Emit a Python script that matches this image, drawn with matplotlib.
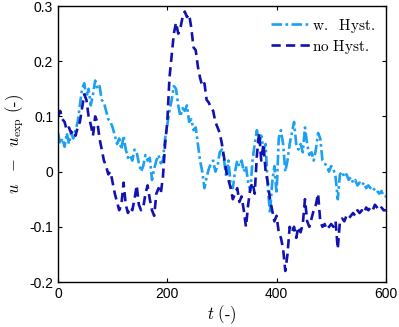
import numpy as np
import matplotlib
matplotlib.use("Agg")
import matplotlib.pyplot as plt

# time grid, 4 s steps from 0 to 600
t = np.arange(0, 601, 4)

# u - u_exp, with hysteresis model
w_hyst = [
    0.07, 0.05, 0.06, 0.045, 0.07, 0.05, 0.07, 0.06, 0.075, 0.09,
    0.12, 0.15, 0.16, 0.135, 0.15, 0.12, 0.14, 0.165, 0.15, 0.155,
    0.13, 0.125, 0.11, 0.095, 0.09, 0.08, 0.065, 0.05, 0.06, 0.04,
    0.065, 0.04, 0.025, 0.03, 0.02, 0.04, 0.035, 0.015, 0.0, 0.01,
    0.03, 0.02, 0.025, -0.015, 0.005, 0.02, 0.03, 0.015, 0.02, 0.06,
    0.085, 0.11, 0.13, 0.155, 0.15, 0.12, 0.10, 0.115, 0.11, 0.12,
    0.09, 0.095, 0.075, 0.08, 0.05, 0.02, 0.0, -0.03, -0.01, 0.005,
    0.015, 0.02, 0.0, 0.01, 0.035, 0.04, 0.02, -0.01, 0.02, -0.025,
    -0.03, 0.0, 0.02, 0.01, 0.02, 0.0, 0.01, -0.02, -0.035, 0.02,
    0.05, 0.075, 0.05, 0.065, 0.04, 0.05, -0.03, -0.075, -0.02, 0.01,
    -0.04, 0.06, 0.075, 0.05, 0.0, 0.02, 0.05, 0.07, 0.09, 0.05,
    0.04, 0.05, 0.035, 0.08, 0.05, 0.03, 0.035, 0.02, 0.04, 0.07,
    0.06, 0.02, 0.015, 0.01, 0.0, 0.01, 0.005, -0.01, -0.05, -0.005,
    0.0, -0.01, -0.005, -0.015, -0.01, -0.02, -0.015, -0.025, -0.02, -0.025,
    -0.02, -0.03, -0.025, -0.03, -0.035, -0.03, -0.035, -0.04, -0.035, -0.045,
    -0.045,
]

# u - u_exp, without hysteresis
no_hyst = [
    0.10, 0.11, 0.095, 0.09, 0.075, 0.08, 0.07, 0.075, 0.065, 0.08,
    0.09, 0.115, 0.14, 0.13, 0.10, 0.085, 0.065, 0.10, 0.09, 0.06,
    0.04, 0.02, 0.01, -0.005, 0.0, -0.02, -0.04, -0.055, -0.07, -0.06,
    -0.02, -0.06, -0.075, -0.065, -0.07, -0.05, -0.025, -0.06, -0.07, -0.065,
    -0.04, -0.025, -0.05, -0.07, -0.08, -0.04, -0.03, -0.04, -0.01, 0.05,
    0.09, 0.17, 0.21, 0.25, 0.27, 0.25, 0.26, 0.28, 0.29, 0.28,
    0.285, 0.26, 0.225, 0.22, 0.19, 0.17, 0.155, 0.16, 0.13, 0.125,
    0.115, 0.11, 0.09, 0.08, 0.07, 0.05, 0.025, 0.0, -0.015, -0.03,
    -0.05, -0.04, -0.03, -0.055, -0.045, -0.07, -0.10, -0.06, -0.03, -0.02,
    -0.04, 0.03, 0.07, 0.02, 0.05, 0.0, -0.02, -0.05, -0.07, -0.09,
    -0.08, -0.11, -0.12, -0.14, -0.18, -0.15, -0.10, -0.11, -0.10, -0.12,
    -0.10, -0.11, -0.095, -0.05, -0.09, -0.10, -0.085, -0.07, -0.06, -0.04,
    -0.09, -0.10, -0.095, -0.105, -0.10, -0.095, -0.10, -0.09, -0.14, -0.09,
    -0.085, -0.09, -0.08, -0.085, -0.08, -0.075, -0.08, -0.07, -0.075, -0.07,
    -0.075, -0.065, -0.07, -0.065, -0.07, -0.06, -0.065, -0.07, -0.065, -0.07,
    -0.07,
]

plt.rcParams['font.family'] = ['Liberation Sans', 'DejaVu Sans']
plt.rcParams['mathtext.fontset'] = 'cm'

fig = plt.figure(figsize=(3.99, 3.27), dpi=100)
ax = fig.add_axes([0.1454, 0.1376, 0.8216, 0.844])

ax.plot(t, w_hyst, color='#1ca0f2', lw=1.9, linestyle=(0, (4, 1.3, 1, 1.3)), label=r'$\mathrm{w.\ \ Hyst.}$')
ax.plot(t, no_hyst, color='#1212b0', lw=1.9, linestyle=(0, (3.5, 2)), label=r'$\mathrm{no\ Hyst.}$')

ax.set_xlim(0, 600)
ax.set_ylim(-0.2, 0.3)
ax.set_xticks([0, 200, 400, 600])
ax.set_yticks([-0.2, -0.1, 0, 0.1, 0.2, 0.3])
ax.set_yticklabels(['-0.2', '-0.1', '0', '0.1', '0.2', '0.3'])
ax.tick_params(direction='in', top=True, right=True, labelsize=10, length=3)
for s in ax.spines.values():
    s.set_linewidth(1.0)

ax.set_xlabel(r'$t\ \mathrm{(\text{-})}$', fontsize=12, labelpad=2)
ax.set_ylabel(r'$u\ \ -\ \ u_{\mathrm{exp}}\ \mathrm{(\text{-})}$', fontsize=12, labelpad=2)

ax.legend(loc='upper right', frameon=False, fontsize=11, handlelength=2.6,
          handletextpad=0.1, borderaxespad=0.3, labelspacing=0.2)

fig.savefig('out.png', dpi=100)
